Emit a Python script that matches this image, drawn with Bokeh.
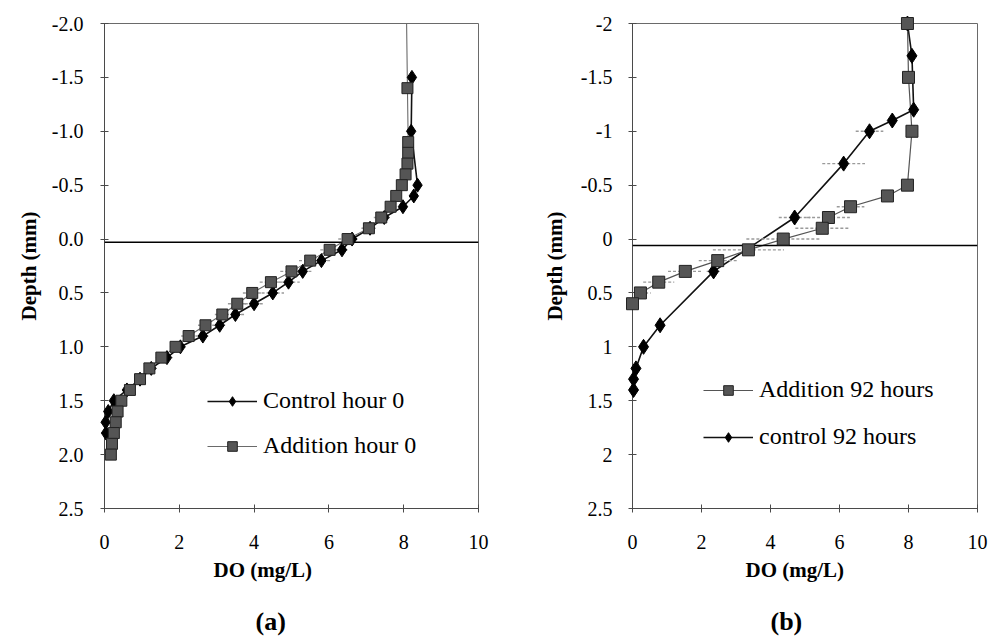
import numpy as np
from bokeh.plotting import figure
from bokeh.layouts import row
from bokeh.models import (ColumnDataSource, Range1d, FixedTicker, CustomJSTickFormatter,
                          Span, Legend, LegendItem, Title)
from bokeh.embed import file_html
from bokeh.resources import INLINE

FONT = "'Liberation Serif', 'DejaVu Serif', serif"

# ---------------- Panel (a): hour 0 ----------------
ctrl0_depth = [-1.5, -1.0, -0.5, -0.4, -0.3, -0.2, -0.1, 0.0, 0.1, 0.2, 0.3, 0.4, 0.5, 0.6, 0.7,
               0.8, 0.9, 1.0, 1.1, 1.2, 1.3, 1.4, 1.5, 1.6, 1.7, 1.8]
ctrl0_do = [8.22, 8.2, 8.37, 8.27, 7.98, 7.48, 7.1, 6.62, 6.35, 5.8, 5.3, 4.92, 4.5, 4.0, 3.5,
            3.08, 2.63, 2.03, 1.67, 1.25, 0.95, 0.6, 0.25, 0.1, 0.03, 0.04]
ctrl0_err = [0, 0, 0.1, 0.1, 0.1, 0.15, 0.2, 0.2, 0.2, 0.25, 0.25, 0.3, 0.3, 0.25, 0.25,
             0.2, 0.2, 0.2, 0.15, 0.15, 0.1, 0.1, 0, 0, 0, 0]

add0_depth = [-2.2, -1.4, -0.9, -0.8, -0.7, -0.6, -0.5, -0.4, -0.3, -0.2, -0.1, 0.0, 0.1, 0.2,
              0.3, 0.4, 0.5, 0.6, 0.7, 0.8, 0.9, 1.0, 1.1, 1.2, 1.3, 1.4, 1.5, 1.6, 1.7, 1.8,
              1.9, 2.0]
add0_do = [8.07, 8.1, 8.12, 8.12, 8.1, 8.05, 7.95, 7.8, 7.65, 7.4, 7.07, 6.5, 6.02, 5.5,
           5.0, 4.45, 3.95, 3.55, 3.15, 2.7, 2.25, 1.9, 1.52, 1.2, 0.95, 0.68, 0.45, 0.35,
           0.3, 0.25, 0.2, 0.17]
add0_err = [0, 0, 0, 0, 0, 0, 0.1, 0.1, 0.15, 0.2, 0.2, 0.25, 0.25, 0.3, 0.3, 0.3, 0.25,
            0.25, 0.2, 0.2, 0.2, 0.15, 0.15, 0.1, 0.1, 0.1, 0, 0, 0, 0, 0, 0]
surface_a = 0.03

# ---------------- Panel (b): 92 hours ----------------
add92_depth = [-2.0, -1.5, -1.0, -0.5, -0.4, -0.3, -0.2, -0.1, 0.0, 0.1, 0.2, 0.3, 0.4, 0.5, 0.6]
add92_do = [7.97, 8.0, 8.1, 7.97, 7.39, 6.32, 5.68, 5.5, 4.37, 3.36, 2.47, 1.53, 0.76, 0.23, 0.0]
add92_err = [0, 0, 0, 0, 0, 0.4, 0.62, 0.78, 1.07, 1.03, 0.55, 0.5, 0.45, 0.3, 0]

ctrl92_depth = [-2.0, -1.7, -1.2, -1.1, -1.0, -0.7, -0.2, 0.3, 0.8, 1.0, 1.2, 1.3, 1.4]
ctrl92_do = [7.97, 8.1, 8.15, 7.53, 6.87, 6.12, 4.7, 2.35, 0.8, 0.32, 0.1, 0.03, 0.03]
ctrl92_err = [0, 0, 0, 0, 0.4, 0.62, 0.46, 0.2, 0, 0, 0, 0, 0]
surface_b = 0.06

x_ticks = [0, 2, 4, 6, 8, 10]
y_ticks = [-2.0, -1.5, -1.0, -0.5, 0.0, 0.5, 1.0, 1.5, 2.0, 2.5]
Y_TOP, Y_BOTTOM = -2.0, 2.5


def series(p, depth, do, err, marker, size, fill, line_color, lw, lcol):
    d = np.array(depth, dtype=float)
    x = np.array(do, dtype=float)
    e = np.array(err, dtype=float)
    m = e > 0
    eb = ColumnDataSource(dict(y=d[m], lo=x[m] - e[m], hi=x[m] + e[m]))
    p.segment(x0="lo", x1="hi", y0="y", y1="y", source=eb, line_color="#9a9a9a",
              line_width=1.4, line_dash="3 2")
    src = ColumnDataSource(dict(x=x, y=d))
    lr = p.line("x", "y", source=src, line_color=lcol, line_width=lw)
    vis = d >= Y_TOP
    msrc = ColumnDataSource(dict(x=x[vis], y=d[vis]))
    sr = p.scatter("x", "y", source=msrc, marker=marker, size=size, fill_color=fill,
                   line_color=line_color, line_width=1)
    sr.level = "overlay"
    return lr, sr


def base(width, bl, br, bt, bb, fmt_code, surface):
    p = figure(width=width, height=639, output_backend="svg", toolbar_location=None,
               x_range=Range1d(0, 10), y_range=Range1d(Y_BOTTOM, Y_TOP),
               min_border_left=bl, min_border_right=br, min_border_top=bt, min_border_bottom=bb,
               background_fill_color="white", border_fill_color="white")
    p.grid.visible = False
    p.outline_line_color = "#6a6a6a"
    p.outline_line_width = 1
    p.xaxis.ticker = FixedTicker(ticks=x_ticks, minor_ticks=[])
    p.yaxis.ticker = FixedTicker(ticks=y_ticks, minor_ticks=[])
    p.yaxis.formatter = CustomJSTickFormatter(code=fmt_code)
    for ax in (p.xaxis[0], p.yaxis[0]):
        ax.axis_line_color = "#4a4a4a"
        ax.major_tick_line_color = "#4a4a4a"
        ax.minor_tick_line_color = None
        ax.major_tick_in = 4
        ax.major_tick_out = 4
        ax.major_label_text_font = FONT
        ax.major_label_text_font_size = "20px"
        ax.major_label_text_color = "black"
        ax.axis_label_text_font = FONT
        ax.axis_label_text_font_size = "21px"
        ax.axis_label_text_font_style = "bold"
        ax.axis_label_text_color = "black"
    p.xaxis.major_label_standoff = 22
    p.yaxis.axis_label = "Depth (mm)"
    p.add_layout(Span(location=surface, dimension="width", line_color="black", line_width=1.6))
    return p


def captions(p, dx, tx, tag):
    p.add_layout(Title(text="DO (mg/L)", align="left", offset=dx, text_font=FONT,
                       text_font_size="21px", text_font_style="bold", text_color="black",
                       standoff=8), "below")
    p.add_layout(Title(text=" ", align="left", offset=0, text_font=FONT,
                       text_font_size="1px", text_color="white", standoff=16), "below")
    p.add_layout(Title(text=tag, align="left", offset=tx, text_font=FONT,
                       text_font_size="26px", text_font_style="bold", text_color="black",
                       standoff=0), "below")


def legend(p, items, loc, spacing):
    lg = Legend(items=items, location=loc, label_text_font=FONT, label_text_font_size="24px",
                label_text_color="black", glyph_width=50, glyph_height=24, label_height=24,
                label_standoff=6, spacing=spacing, padding=0, margin=0,
                border_line_color=None, background_fill_alpha=0)
    p.add_layout(lg)


# Panel (a)
pa = base(500, 104, 22, 23, 131, "return tick.toFixed(1)", surface_a)
pa.yaxis.major_label_standoff = 17
pa.yaxis.axis_label_standoff = 8
ca_l, ca_s = series(pa, ctrl0_depth, ctrl0_do, ctrl0_err, "diamond", 14, "black", "black", 1.6, "#111111")
aa_l, aa_s = series(pa, add0_depth, add0_do, add0_err, "square", 11, "#555555", "#222222", 1.1, "#6a6a6a")
legend(pa, [LegendItem(label="Control hour 0", renderers=[ca_l, ca_s]),
            LegendItem(label="Addition hour 0", renderers=[aa_l, aa_s])], (103, 49), 18)
captions(pa, 109, 151, "(a)")

# Panel (b)
pb = base(490, 132, 13, 18, 130, "return String(Number(tick.toFixed(1)))", surface_b)
pb.yaxis.major_label_standoff = 16
pb.yaxis.axis_label_standoff = 11
cb_l, cb_s = series(pb, ctrl92_depth, ctrl92_do, ctrl92_err, "diamond", 15, "black", "black", 1.6, "#111111")
ab_l, ab_s = series(pb, add92_depth, add92_do, add92_err, "square", 12, "#555555", "#222222", 1.2, "#555555")
legend(pb, [LegendItem(label="Addition 92 hours", renderers=[ab_l, ab_s]),
            LegendItem(label="control 92 hours", renderers=[cb_l, cb_s])], (71, 58), 20)
captions(pb, 113, 138, "(b)")

layout = row(pa, pb)
open("out.html", "w").write(file_html(layout, INLINE))
